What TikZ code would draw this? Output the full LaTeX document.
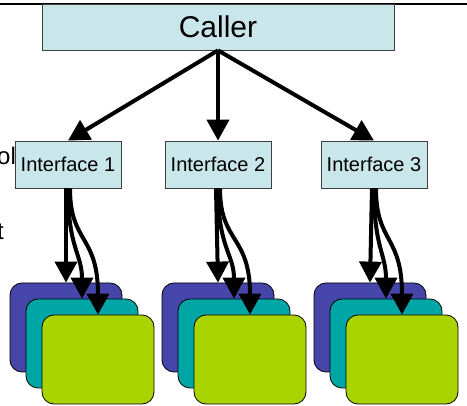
\documentclass[tikz,border=0pt]{standalone}
\usepackage{fontspec}
\setmainfont{Liberation Sans}
\usetikzlibrary{arrows.meta,calc}

\definecolor{boxfill}{RGB}{201,230,234}
\definecolor{cardblue}{RGB}{70,70,170}
\definecolor{cardteal}{RGB}{0,166,166}
\definecolor{cardgreen}{RGB}{170,212,0}

\tikzset{
  box/.style={draw=black!75, fill=boxfill, line width=0.8pt, inner sep=0pt},
  card/.style={draw=black, line width=0.8pt, rounded corners=12pt, minimum width=112pt, minimum height=89pt},
  fat/.style={line width=4pt, -{Triangle[length=21pt,width=22pt]}},
}

\begin{document}
\begin{tikzpicture}[x=1pt,y=-1pt]
            \useasboundingbox (0,0) rectangle (467,406);
            \draw[line width=2pt] (0,4)--(467,4);
            % cut off text at the left edge
            \node[anchor=base west, inner sep=0pt, font=\fontsize{24}{24}\selectfont] (frag1) at (-3,165) {ol};
            \node[anchor=base west, inner sep=0pt, font=\fontsize{24}{24}\selectfont] (frag2) at (-3,240) {t};
            \node[box, minimum width=352pt, minimum height=46pt, font=\fontsize{30}{30}\selectfont] (caller) at (218,27) {Caller};
            \foreach \n/\x in {1/68,2/218,3/374}{
            \node[box, minimum width=106pt, minimum height=47pt, font=\fontsize{20}{20}\selectfont] (i\n) at (\x,164.5) {Interface \n};
            \draw[fat] (caller.south) -- (i\n.north);
            }
            \foreach \n in {1,2,3}{
            \pgfmathsetmacro\sx{66+152*(\n-1)}
            \node[card, fill=cardblue] (b\n) at (\sx,327.5) {};
            \node[card, fill=cardteal] (t\n) at ($ (b\n)+(16,16) $) {};
            \node[card, fill=cardgreen] (g\n) at ($ (b\n)+(32,32) $) {};
            \draw[fat] ([xshift=-2pt]i\n.south) -- (b\n.north);
            \draw[fat] (i\n.south) .. controls +(0,60) and +(0,-45) .. (t\n.north);
            \draw[fat] ([xshift=2pt]i\n.south) .. controls +(0,55) and +(0,-80) .. (g\n.north);
            }
        \end{tikzpicture}
\end{document}
